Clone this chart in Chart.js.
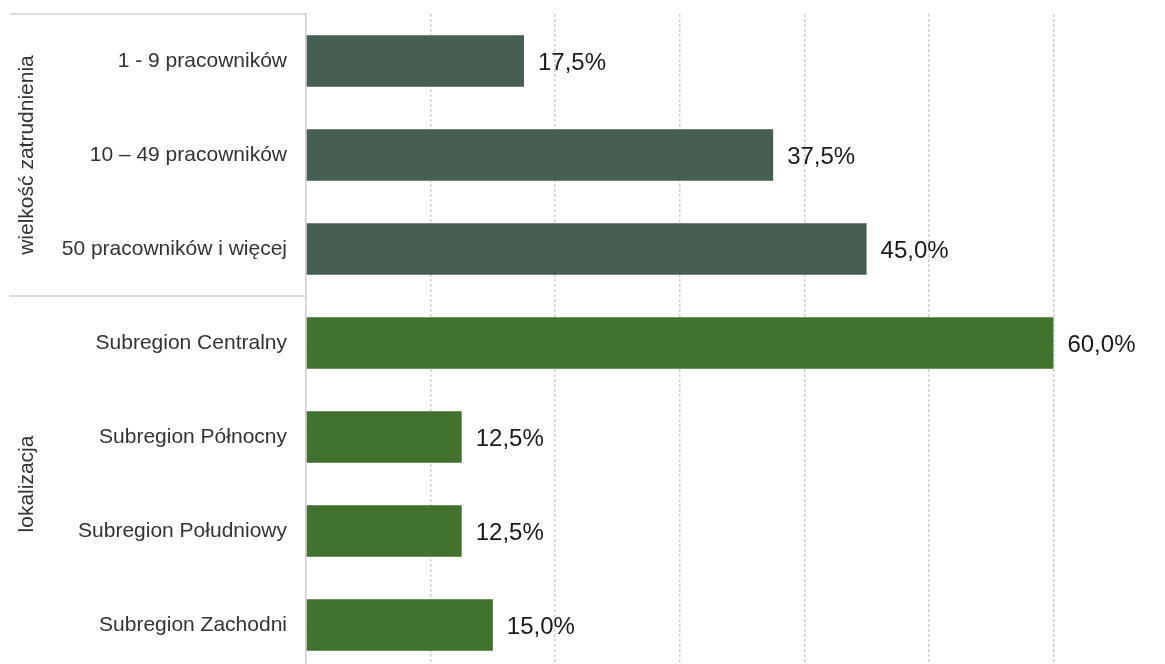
<!DOCTYPE html>
<html>
<head>
<meta charset="utf-8">
<script src="https://cdn.jsdelivr.net/npm/chart.js@4/dist/chart.umd.min.js"></script>
<style>
  html, body { margin: 0; padding: 0; overflow: hidden; background: #fff; }
  canvas { display: block; }
</style>
</head>
<body>
<canvas id="myChart" width="1180" height="674"></canvas>
<script>
const labels = ['1 - 9 pracowników', '10 \u2013 49 pracowników', '50 pracowników i więcej',
  'Subregion Centralny', 'Subregion Północny', 'Subregion Południowy', 'Subregion Zachodni'];
const values = [17.5, 37.5, 45.0, 60.0, 12.5, 12.5, 15.0];
const groups = [
  { name: 'wielkość zatrudnienia', from: 0, to: 2 },
  { name: 'lokalizacja', from: 3, to: 6 }
];
const barColors = ['#465f50', '#465f50', '#465f50', '#41732e', '#41732e', '#41732e', '#41732e'];

const FONT = '"Liberation Sans", Arial, sans-serif';

// value labels + group labels on the left
const extras = {
  id: 'extras',
  afterDatasetsDraw(chart) {
    const c = chart.ctx;
    const meta = chart.getDatasetMeta(0);
    c.save();
    c.font = '24px ' + FONT;
    c.fillStyle = '#1a1a1a';
    c.textBaseline = 'middle';
    meta.data.forEach((bar, i) => {
      c.fillText(values[i].toFixed(1).replace('.', ',') + '%', bar.x + 14, bar.y + 2);
    });

    const y = chart.scales.y;
    const half = (y.getPixelForValue(1) - y.getPixelForValue(0)) / 2;
    const left = chart.chartArea.left;
    c.strokeStyle = '#d0d0d0';
    c.lineWidth = 1.5;
    groups.forEach(g => {
      const top = y.getPixelForValue(g.from) - half;
      const bot = y.getPixelForValue(g.to) + half;
      c.beginPath();
      c.moveTo(10, top);
      c.lineTo(left, top);
      c.stroke();
      c.save();
      c.translate(27, (top + bot) / 2);
      c.rotate(-Math.PI / 2);
      c.font = '21px ' + FONT;
      c.fillStyle = '#333333';
      c.textAlign = 'center';
      c.textBaseline = 'middle';
      c.fillText(g.name, 0, 0);
      c.restore();
    });
    c.restore();
  }
};

const ctx = document.getElementById('myChart').getContext('2d');
const myChart = new Chart(ctx, {
  type: 'bar',
  data: {
    labels: labels,
    datasets: [{
      data: values,
      backgroundColor: barColors,
      borderWidth: 0,
      barPercentage: 0.55,
      categoryPercentage: 1
    }]
  },
  options: {
    indexAxis: 'y',
    responsive: false,
    animation: false,
    layout: { padding: { top: 14, bottom: 2, right: 2, left: 0 } },
    plugins: { legend: { display: false }, tooltip: { enabled: false } },
    scales: {
      x: {
        min: 0,
        max: 70,
        ticks: { display: false, stepSize: 10 },
        grid: { color: '#d0d0d0', lineWidth: 1.5, drawTicks: false },
        border: { display: false, dash: [3, 2] },
        afterFit(scale) {
          scale.height = 0;
          scale.paddingLeft = 0;
          scale.paddingRight = 0;
        }
      },
      y: {
        ticks: {
          color: '#333333',
          padding: 19,
          font: { family: FONT, size: 21 }
        },
        grid: { display: false, drawTicks: false },
        border: { display: true, color: '#d0d0d0', width: 1.5 },
        afterFit(scale) {
          scale.width = 306;
          scale.paddingTop = 0;
          scale.paddingBottom = 0;
        }
      }
    }
  },
  plugins: [extras]
});
</script>
</body>
</html>
